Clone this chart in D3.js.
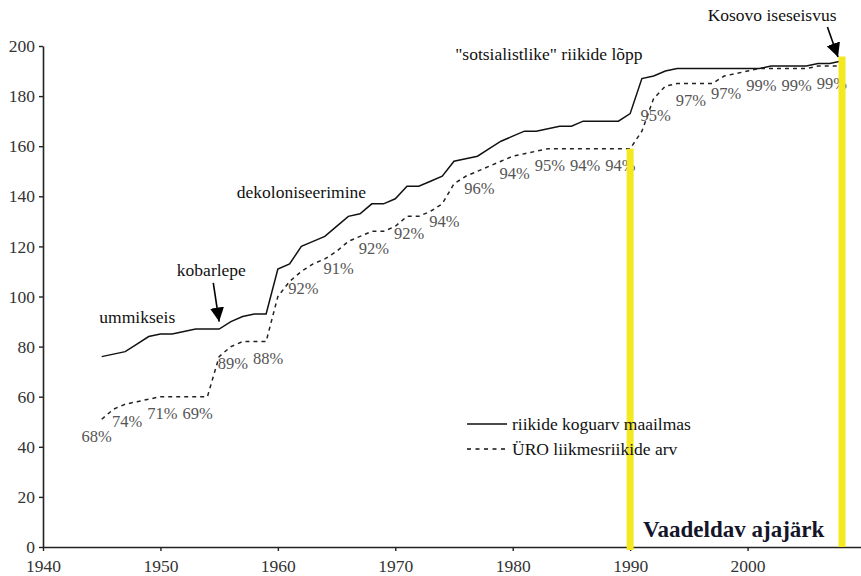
<!DOCTYPE html>
<html>
<head>
<meta charset="utf-8">
<script src="https://cdn.jsdelivr.net/npm/d3@7"></script>
<style>
  body { margin: 0; background: #fff; }
  svg { display: block; font-family: "Liberation Serif", "Times New Roman", serif; }
</style>
</head>
<body>
<svg id="chart"></svg>
<script>
// aastad 1945..2008
var years = d3.range(1945, 2009);

// riikide koguarv maailmas
var countries = [
  76, 77, 78, 81, 84, 85, 85, 86, 87, 87,
  87, 90, 92, 93, 93, 111, 113, 120, 122, 124,
  128, 132, 133, 137, 137, 139, 144, 144, 146, 148,
  154, 155, 156, 159, 162, 164, 166, 166, 167, 168,
  168, 170, 170, 170, 170, 173, 187, 188, 190, 191,
  191, 191, 191, 191, 191, 191, 191, 192, 192, 192,
  192, 193, 193, 194
];

// ÜRO liikmesriikide arv
var unMembers = [
  51, 55, 57, 58, 59, 60, 60, 60, 60, 60,
  76, 80, 82, 82, 82, 100, 106, 110, 113, 115,
  118, 122, 124, 126, 126, 128, 132, 132, 134, 137,
  145, 148, 150, 152, 154, 156, 157, 158, 159, 159,
  159, 159, 159, 159, 159, 159, 166, 179, 184, 185,
  185, 185, 185, 188, 189, 190, 191, 191, 191, 191,
  191, 192, 192, 192
];

// protsendid (ÜRO liikmed / kõik riigid)
var pctYears = [1945, 1947, 1950, 1953, 1956, 1959, 1962, 1965, 1968, 1971, 1974,
                1977, 1980, 1983, 1986, 1989, 1992, 1995, 1998, 2001, 2004, 2007];
var pctLabels = ["68%", "74%", "71%", "69%", "89%", "88%", "92%", "91%", "92%", "92%", "94%",
                 "96%", "94%", "95%", "94%", "94%", "95%", "97%", "97%", "99%", "99%", "99%"];

var xTicks = [1940, 1950, 1960, 1970, 1980, 1990, 2000];
var yTicks = [0, 20, 40, 60, 80, 100, 120, 140, 160, 180, 200];

var legendLabels = ["riikide koguarv maailmas", "ÜRO liikmesriikide arv"];

// sündmused
var notes = [
  {text: "ummikseis", year: 1944.8, value: 89.4},
  {text: "kobarlepe", year: 1951.4, value: 108.2},
  {text: "dekoloniseerimine", year: 1956.5, value: 139.3},
  {text: "\"sotsialistlike\" riikide lõpp", year: 1975.1, value: 194.4},
  {text: "Kosovo iseseisvus", year: 1996.6, value: 210}
];
var arrows = [
  {from: [1954.5, 105.4], to: [1955.0, 90]},
  {from: [2006.8, 207.6], to: [2007.7, 195.6]}
];
var period = [1990, 2008];

var width = 861, height = 576;

var svg = d3.select("#chart")
  .attr("width", width)
  .attr("height", height);

var x = d3.scaleLinear().domain([1940, 2010]).range([43, 865]);
var y = d3.scaleLinear().domain([0, 200]).range([547, 46]);

var defs = svg.append("defs");
defs.append("marker")
  .attr("id", "arrowhead")
  .attr("markerUnits", "userSpaceOnUse")
  .attr("viewBox", "0 0 10 10")
  .attr("refX", 10)
  .attr("refY", 5)
  .attr("markerWidth", 14)
  .attr("markerHeight", 14)
  .attr("orient", "auto")
  .append("path")
  .attr("d", "M0,0L10,5L0,10z")
  .attr("fill", "#000");

// axes
var yAxis = svg.append("g")
  .attr("transform", "translate(" + x(1940) + ",0)")
  .call(d3.axisLeft(y).tickValues(yTicks).tickSize(4).tickSizeOuter(0).tickPadding(4));

var xAxis = svg.append("g")
  .attr("transform", "translate(0," + y(0) + ")")
  .call(d3.axisBottom(x).tickValues(xTicks).tickFormat(d3.format("d")).tickSize(4).tickSizeOuter(0));

[xAxis, yAxis].forEach(function(g) {
  g.select(".domain").attr("stroke", "#222").attr("stroke-width", 1.6);
  g.selectAll(".tick line").attr("stroke", "#222").attr("stroke-width", 1.4);
  g.selectAll(".tick text")
    .attr("fill", "#333")
    .style("font-family", "'Liberation Serif', serif")
    .style("font-size", "17.5px");
});
xAxis.selectAll(".tick text").attr("y", 13);

// lines
var lineCountries = d3.line()
  .x(function(d, i) { return x(years[i]); })
  .y(function(d) { return y(d); });

svg.append("path")
  .datum(countries)
  .attr("d", lineCountries)
  .attr("fill", "none")
  .attr("stroke", "#111")
  .attr("stroke-width", 1.5);

svg.append("path")
  .datum(unMembers)
  .attr("d", lineCountries)
  .attr("fill", "none")
  .attr("stroke", "#222")
  .attr("stroke-width", 1.5)
  .attr("stroke-dasharray", "4,4");

// percent labels under the dashed line
svg.selectAll(".pct")
  .data(pctLabels)
  .enter().append("text")
  .attr("class", "pct")
  .attr("x", function(d, i) { return x(pctYears[i]) + (i === 0 ? -5 : 2); })
  .attr("y", function(d, i) { return y(unMembers[years.indexOf(pctYears[i])]) + 17; })
  .attr("dy", "0.35em")
  .attr("text-anchor", "middle")
  .attr("fill", "#555")
  .style("font-size", "16.5px")
  .text(function(d) { return d; });

// vaadeldav ajajärk: kollased piirid (üle joonte, alla legendi)
svg.append("rect")
  .attr("x", x(period[0]) - 3.5)
  .attr("y", y(unMembers[years.indexOf(period[0])]))
  .attr("width", 7)
  .attr("height", y(0) + 3 - y(unMembers[years.indexOf(period[0])]))
  .attr("fill", "#f4e81f");

svg.append("rect")
  .attr("x", x(period[1]) - 3)
  .attr("y", y(195.8))
  .attr("width", 7)
  .attr("height", y(0) - y(195.8))
  .attr("fill", "#f4e81f");

// annotations
svg.selectAll(".note")
  .data(notes)
  .enter().append("text")
  .attr("class", "note")
  .attr("x", function(d) { return x(d.year); })
  .attr("y", function(d) { return y(d.value); })
  .attr("fill", "#111")
  .style("font-size", "17.5px")
  .text(function(d) { return d.text; });

svg.selectAll(".arrow")
  .data(arrows)
  .enter().append("line")
  .attr("class", "arrow")
  .attr("x1", function(d) { return x(d.from[0]); })
  .attr("y1", function(d) { return y(d.from[1]); })
  .attr("x2", function(d) { return x(d.to[0]); })
  .attr("y2", function(d) { return y(d.to[1]); })
  .attr("stroke", "#000")
  .attr("stroke-width", 1.6)
  .attr("marker-end", "url(#arrowhead)");

// legend
var legend = svg.append("g").attr("transform", "translate(467,424)");
legendLabels.forEach(function(t, i) {
  legend.append("line")
    .attr("x1", 0).attr("x2", 40)
    .attr("y1", i * 25).attr("y2", i * 25)
    .attr("stroke", "#111")
    .attr("stroke-width", 1.5)
    .attr("stroke-dasharray", i === 1 ? "4,4.5" : null);
  legend.append("text")
    .attr("x", 45)
    .attr("y", i * 25)
    .attr("dy", "0.32em")
    .attr("fill", "#111")
    .style("font-size", "17.5px")
    .text(t);
});

svg.append("text")
  .attr("x", x(1991.1))
  .attr("y", y(4))
  .attr("fill", "#14142a")
  .style("font-size", "23px")
  .style("font-weight", "bold")
  .text("Vaadeldav ajajärk");
</script>
</body>
</html>
